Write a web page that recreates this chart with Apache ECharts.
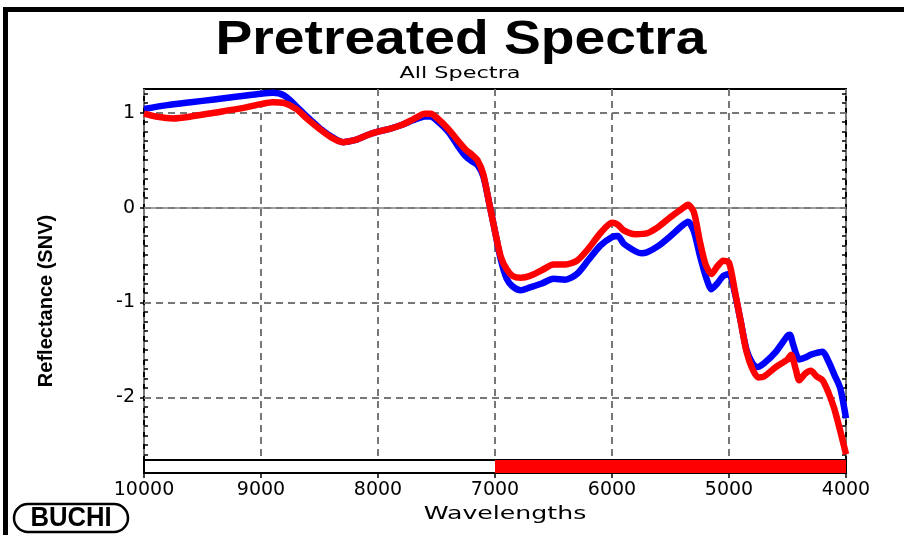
<!DOCTYPE html>
<html>
<head>
<meta charset="utf-8">
<script src="https://cdn.jsdelivr.net/npm/echarts@6/dist/echarts.min.js"></script>
<style>
html,body{margin:0;padding:0;background:#fff;}
#chart{width:904px;height:535px;}
</style>
</head>
<body>
<div id="chart"></div>
<script>
// ---- data ----
const chartTitle = 'Pretreated Spectra';
const chartSubtitle = 'All Spectra';
const xAxisName = 'Wavelengths';
const yAxisName = 'Reflectance (SNV)';
const xTicks = [10000, 9000, 8000, 7000, 6000, 5000, 4000];
const yTicks = [1, 0, -1, -2];
const selectedRegion = [7000, 4000];

const blueWave = [10000, 9800, 9600, 9400, 9200, 9000, 8900, 8800, 8700, 8600, 8500, 8400, 8300, 8200, 8100, 8000, 7900, 7800, 7700, 7600, 7550, 7500, 7400, 7300, 7250, 7200, 7150, 7100, 7050, 7000, 6950, 6900, 6850, 6780, 6700, 6600, 6500, 6400, 6300, 6200, 6100, 6000, 5950, 5900, 5800, 5750, 5700, 5600, 5500, 5400, 5350, 5300, 5250, 5200, 5150, 5100, 5050, 5000, 4950, 4900, 4850, 4800, 4760, 4700, 4600, 4500, 4480, 4450, 4400, 4350, 4300, 4200, 4150, 4100, 4050, 4000];
const blueVals = [1.04, 1.08, 1.11, 1.14, 1.17, 1.20, 1.21, 1.18, 1.07, 0.95, 0.84, 0.75, 0.69, 0.71, 0.76, 0.80, 0.83, 0.87, 0.92, 0.96, 0.96, 0.92, 0.80, 0.62, 0.54, 0.49, 0.45, 0.33, 0.05, -0.25, -0.55, -0.75, -0.83, -0.87, -0.84, -0.80, -0.75, -0.76, -0.70, -0.55, -0.40, -0.31, -0.30, -0.38, -0.46, -0.48, -0.47, -0.40, -0.30, -0.19, -0.15, -0.25, -0.50, -0.72, -0.86, -0.80, -0.72, -0.70, -0.90, -1.20, -1.50, -1.64, -1.68, -1.64, -1.52, -1.35, -1.34, -1.45, -1.60, -1.58, -1.55, -1.52, -1.62, -1.76, -1.90, -2.22];

const redWave = [10000, 9900, 9750, 9600, 9400, 9200, 9000, 8900, 8800, 8700, 8600, 8500, 8400, 8300, 8200, 8100, 8000, 7900, 7800, 7700, 7600, 7550, 7500, 7400, 7300, 7250, 7200, 7150, 7100, 7050, 7000, 6950, 6900, 6850, 6780, 6700, 6600, 6500, 6400, 6300, 6200, 6100, 6000, 5950, 5900, 5800, 5700, 5600, 5500, 5400, 5350, 5300, 5250, 5200, 5150, 5100, 5050, 5000, 4950, 4900, 4850, 4800, 4750, 4700, 4600, 4500, 4470, 4430, 4400, 4350, 4300, 4250, 4200, 4150, 4100, 4050, 4000];
const redVals = [0.99, 0.96, 0.94, 0.96, 1.00, 1.04, 1.09, 1.11, 1.10, 1.04, 0.93, 0.83, 0.74, 0.69, 0.71, 0.76, 0.80, 0.83, 0.87, 0.93, 0.99, 0.99, 0.95, 0.83, 0.68, 0.61, 0.56, 0.50, 0.35, 0.05, -0.25, -0.52, -0.65, -0.72, -0.74, -0.72, -0.66, -0.60, -0.60, -0.56, -0.43, -0.27, -0.16, -0.18, -0.24, -0.28, -0.27, -0.20, -0.10, -0.01, 0.03, -0.05, -0.35, -0.60, -0.70, -0.62, -0.56, -0.58, -0.88, -1.20, -1.52, -1.70, -1.79, -1.78, -1.68, -1.60, -1.55, -1.70, -1.82, -1.75, -1.72, -1.78, -1.82, -1.95, -2.12, -2.35, -2.60];

// ---- build ----
const zip = (xs, ys) => xs.map((x, i) => [x, ys[i]]);
const chart = echarts.init(document.getElementById('chart'), null, {renderer: 'canvas'});

const gridLine = {show: true, lineStyle: {color: '#777777', type: [7, 5], width: 2}};
const labelFont = {fontFamily: 'DejaVu Sans', fontSize: 19, color: '#000'};
const yMin = -2.66, yMax = 1.25, xMin = 4000, xMax = 10000;

const option = {
  animation: false,
  backgroundColor: '#fff',
  grid: [
    {left: 144, right: 58, top: 89, bottom: 75, show: true, borderColor: '#000', borderWidth: 2, backgroundColor: 'transparent'},
    {left: 144, right: 58, top: 460, height: 13, show: true, borderColor: '#000', borderWidth: 2, backgroundColor: 'transparent'}
  ],
  xAxis: [
    {gridIndex: 0, type: 'value', min: xMin, max: xMax, interval: 1000, inverse: true,
     axisLabel: {show: false}, axisTick: {show: false},
     axisLine: {show: true, onZero: true, lineStyle: {color: '#808080', width: 1.5}},
     splitLine: gridLine},
    {gridIndex: 1, type: 'value', min: xMin, max: xMax, interval: 1000, inverse: true,
     axisLine: {show: false}, splitLine: {show: false},
     axisTick: {show: true, length: 5, lineStyle: {color: '#000', width: 1.5}},
     axisLabel: Object.assign({margin: 8, customValues: xTicks, formatter: v => String(v)}, labelFont)}
  ],
  yAxis: [
    {gridIndex: 0, type: 'value', min: yMin, max: yMax, splitNumber: 4,
     axisLine: {show: false},
     axisTick: {show: true, length: 4, lineStyle: {color: '#000', width: 1.5}, customValues: yTicks},
     axisLabel: Object.assign({margin: 9, customValues: yTicks,
       formatter: v => (Number.isInteger(v) ? String(v) : '')}, labelFont),
     splitLine: gridLine},
    {gridIndex: 0, type: 'value', min: yMin, max: yMax, splitNumber: 4, position: 'left',
     axisLine: {show: false}, axisLabel: {show: false}, splitLine: {show: false},
     axisTick: {show: false, inside: true},
     minorTick: {show: true, splitNumber: 10, length: 4, lineStyle: {color: '#000', width: 1.5}}},
    {gridIndex: 0, type: 'value', min: yMin, max: yMax, splitNumber: 4, position: 'right',
     axisLine: {show: false}, axisLabel: {show: false}, splitLine: {show: false},
     axisTick: {show: false, inside: true},
     minorTick: {show: true, splitNumber: 10, length: 4, lineStyle: {color: '#000', width: 1.5}}},
    {gridIndex: 1, type: 'value', min: 0, max: 1, show: false}
  ],
  series: [
    {name: 'Blue spectra', type: 'line', xAxisIndex: 0, yAxisIndex: 0, data: zip(blueWave, blueVals),
     showSymbol: false, smooth: 0.25, lineStyle: {color: '#0000ff', width: 6.5}, itemStyle: {color: '#0000ff'}, z: 3},
    {name: 'Red spectra', type: 'line', xAxisIndex: 0, yAxisIndex: 0, data: zip(redWave, redVals),
     showSymbol: false, smooth: 0.25, lineStyle: {color: '#ff0000', width: 6.5}, itemStyle: {color: '#ff0000'}, z: 4},
    {name: 'Region', type: 'line', xAxisIndex: 1, yAxisIndex: 3, data: [],
     markArea: {silent: true, itemStyle: {color: '#ff0000'},
       data: [[{xAxis: selectedRegion[0]}, {xAxis: selectedRegion[1]}]]}}
  ],
  graphic: [
    {type: 'rect', x: 3, y: 7, shape: {width: 5, height: 528}, style: {fill: '#000'}},
    {type: 'rect', x: 3, y: 7, shape: {width: 901, height: 5}, style: {fill: '#000'}},
    {type: 'text', x: 461, y: 41, scaleX: 1.15,
     style: {text: chartTitle, font: 'bold 48px "Liberation Sans"', fill: '#000', align: 'center', verticalAlign: 'middle'}},
    {type: 'text', x: 460, y: 74, scaleX: 1.4,
     style: {text: chartSubtitle, font: '16px "DejaVu Sans"', fill: '#000', align: 'center', verticalAlign: 'middle'}},
    {type: 'text', x: 505, y: 514, scaleX: 1.4,
     style: {text: xAxisName, font: '18px "DejaVu Sans"', fill: '#000', align: 'center', verticalAlign: 'middle'}},
    {type: 'text', x: 46, y: 301, rotation: Math.PI / 2,
     style: {text: yAxisName, font: 'bold 20px "Liberation Sans"', fill: '#000', align: 'center', verticalAlign: 'middle'}},
    {type: 'rect', x: 14, y: 504, shape: {width: 114, height: 28, r: 14}, style: {fill: 'none', stroke: '#000', lineWidth: 2.5}},
    {type: 'text', x: 71, y: 519, scaleX: 0.95,
     style: {text: 'BUCHI', font: 'bold 27px "Liberation Sans"', fill: '#000', align: 'center', verticalAlign: 'middle'}}
  ]
};
chart.setOption(option);
</script>
</body>
</html>
